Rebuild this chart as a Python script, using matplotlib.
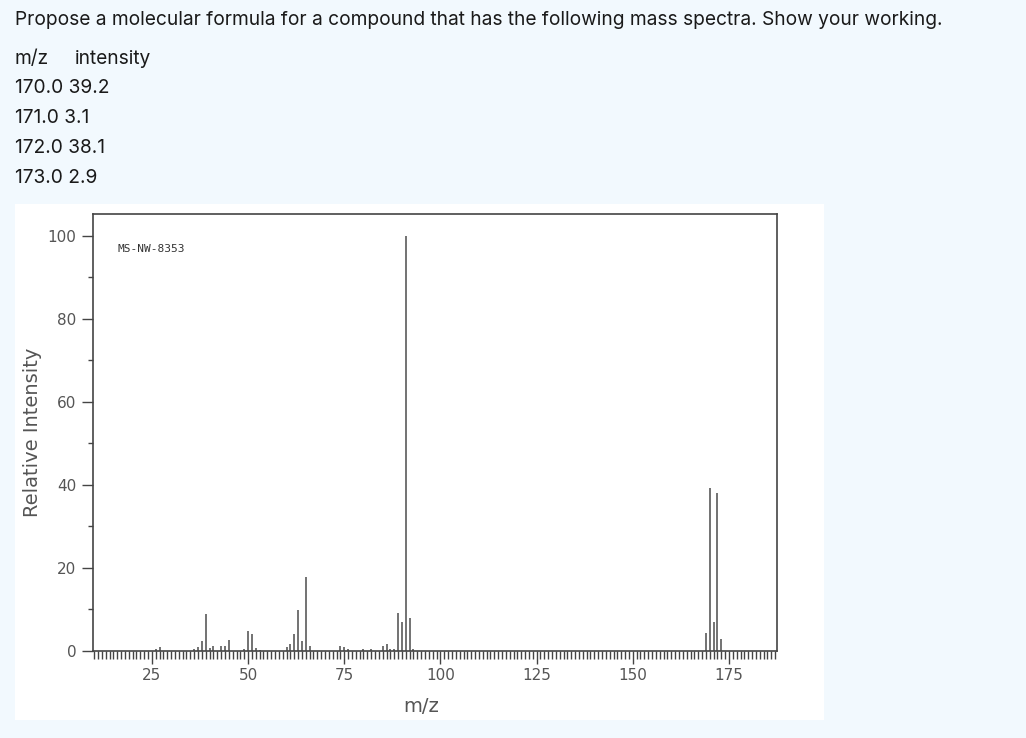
import matplotlib.pyplot as plt
from matplotlib.patches import Rectangle
from matplotlib.ticker import MultipleLocator

question = "Propose a molecular formula for a compound that has the following mass spectra. Show your working."
table_head = ["m/z", "intensity"]
table_rows = ["170.0 39.2", "171.0 3.1", "172.0 38.1", "173.0 2.9"]

# peaks (m/z, relative intensity)
mz = [26, 27, 36, 37, 38, 39, 40, 41, 43, 44, 45, 49, 50, 51, 52, 53,
      60, 61, 62, 63, 64, 65, 66, 74, 75, 76, 80, 82, 85, 86, 87, 88,
      89, 90, 91, 92, 93, 169, 170, 171, 172, 173]
intensity = [0.4, 1.0, 0.4, 1.0, 2.4, 8.8, 0.7, 1.3, 1.3, 1.3, 2.6, 0.5, 4.9, 4.0, 0.7, 0.3,
             0.9, 1.7, 4.0, 9.8, 2.4, 17.8, 1.1, 1.3, 1.0, 0.6, 0.4, 0.4, 1.1, 1.8, 0.6, 0.5,
             9.1, 7.1, 100, 7.9, 0.4, 4.3, 39.2, 7.0, 38.1, 3.0]

W, H = 1026, 738
fig = plt.figure(figsize=(W / 100, H / 100), dpi=100, facecolor='#f2f9fe')

def fx(px):
    return px / W

def fy(py):
    return 1 - py / H

# question text
qs = 13.8
fig.text(fx(15), fy(20), question, fontsize=qs, family='Inter', color='#1a1a1a', va='center')
fig.text(fx(15), fy(59), table_head[0], fontsize=qs, family='Inter', color='#1a1a1a', va='center')
fig.text(fx(75), fy(59), table_head[1], fontsize=qs, family='Inter', color='#1a1a1a', va='center')
for i, row in enumerate(table_rows):
    fig.text(fx(15), fy(88 + 30 * i), row, fontsize=qs, family='Inter', color='#1a1a1a', va='center')

# white panel behind the spectrum
fig.add_artist(Rectangle((fx(15), fy(720)), fx(824) - fx(15), fy(204) - fy(720),
                         transform=fig.transFigure, facecolor='white', edgecolor='none', zorder=0))

ax = fig.add_axes([fx(93), fy(651), fx(776.7) - fx(93), fy(214) - fy(651)])
ax.set_facecolor('white')
ax.vlines(mz, 0, intensity, colors='#5a5a5a', lw=1.2)

ax.set_xlim(9.7, 187.4)
ax.set_ylim(0, 105.3)
ax.xaxis.set_major_locator(MultipleLocator(25))
ax.xaxis.set_minor_locator(MultipleLocator(1))
ax.yaxis.set_major_locator(MultipleLocator(20))
ax.yaxis.set_minor_locator(MultipleLocator(10))

ax.tick_params(axis='x', which='major', length=9, width=1, color='#444', labelsize=11, labelcolor='#555', pad=3)
ax.tick_params(axis='x', which='minor', length=5.5, width=1, color='#444')
ax.tick_params(axis='y', which='major', length=8, width=1, color='#444', labelsize=11, labelcolor='#555', pad=4)
ax.tick_params(axis='y', which='minor', length=3.6, width=1, color='#444')

for s in ax.spines.values():
    s.set_color('#444')
    s.set_linewidth(1.2)

fig.text(fx(118), fy(249), "MS-NW-8353", fontsize=8, family='DejaVu Sans Mono', color='#333', va='center')
fig.text(fx(421), fy(707), "m/z", fontsize=14, color='#555', ha='center', va='center')
fig.text(fx(33), fy(432), "Relative Intensity", fontsize=14, color='#555', rotation=90, ha='center', va='center')

fig.savefig('out.png', dpi=100, facecolor=fig.get_facecolor())
